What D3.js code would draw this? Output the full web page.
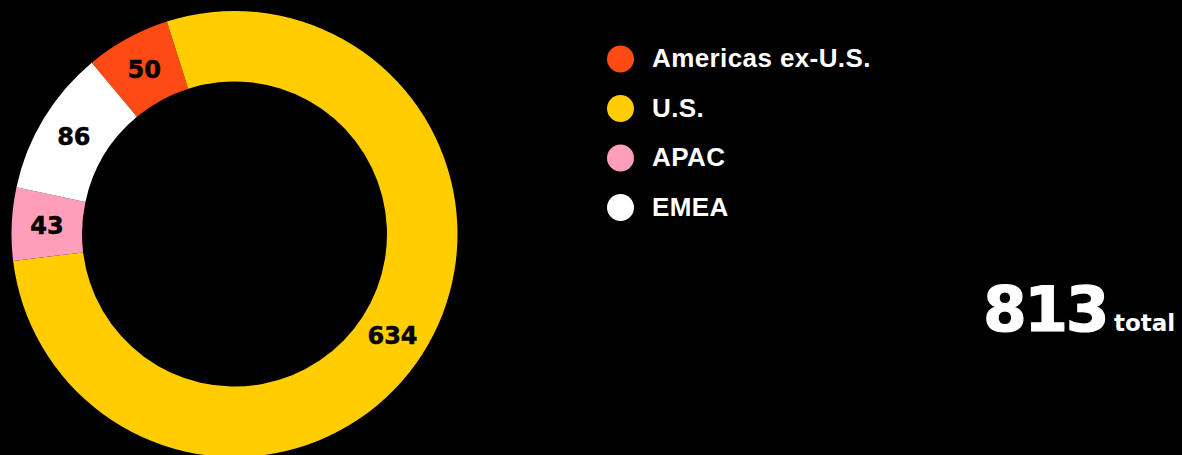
<!DOCTYPE html>
<html><head><meta charset="utf-8">
<script src="https://cdn.jsdelivr.net/npm/d3@7"></script>
<style>html,body{margin:0;padding:0;background:#000;overflow:hidden}</style>
</head><body><svg id="c" width="1182" height="455"></svg>
<script>
const categories = ["Americas ex-U.S.", "U.S.", "APAC", "EMEA"];
const values = [50, 634, 43, 86];
const colors = ["#FF4A13", "#FFCD00", "#FF9EB9", "#FFFFFF"];
const totalValue = 813;
const totalLabel = "total";

const svg = d3.select("#c");
const cx = 234.5, cy = 234, rOut = 223, rIn = 152.5;
const deg = Math.PI / 180;
const pie = d3.pie().sort(null).value(d => d).startAngle(-39.8 * deg).endAngle(320.2 * deg);
const arcs = pie(values);
const arc = d3.arc().innerRadius(rIn).outerRadius(rOut);
const g = svg.append("g").attr("transform", `translate(${cx},${cy})`);
g.selectAll("path").data(arcs).join("path")
  .attr("d", arc).attr("fill", (d, i) => colors[i]);
g.selectAll("text").data(arcs).join("text")
  .attr("transform", d => `translate(${arc.centroid(d)})`)
  .attr("text-anchor", "middle").attr("dy", "0.36em")
  .attr("font-family", "DejaVu Sans, sans-serif").attr("font-weight", 700)
  .attr("font-size", 24).attr("stroke", "#000").attr("stroke-width", 0.5).attr("fill", "#000")
  .text(d => d.value);

const ly = d3.scalePoint().domain(categories).range([59, 207.5]);
const items = svg.append("g").selectAll("g").data(categories).join("g")
  .attr("transform", d => `translate(0,${ly(d)})`);
items.append("circle").attr("cx", 620.5).attr("r", 13.5).attr("fill", (d, i) => colors[i]);
items.append("text").attr("x", 652).attr("y", 8)
  .attr("font-family", "Liberation Sans, Arial, sans-serif").attr("font-weight", 700)
  .attr("font-size", 26).attr("letter-spacing", 0.4).attr("fill", "#fff").text(d => d);

svg.append("text").attr("x", 983).attr("y", 331)
  .attr("fill", "#fff").attr("font-family", "DejaVu Sans, sans-serif").attr("font-weight", 700)
  .attr("font-size", 63).attr("letter-spacing", -2.5)
  .attr("stroke", "#fff").attr("stroke-width", 1.2).text(totalValue);
svg.append("text").attr("x", 1114).attr("y", 331)
  .attr("fill", "#fff").attr("font-family", "DejaVu Sans, sans-serif").attr("font-weight", 700)
  .attr("font-size", 23).text(totalLabel);
</script></body></html>
